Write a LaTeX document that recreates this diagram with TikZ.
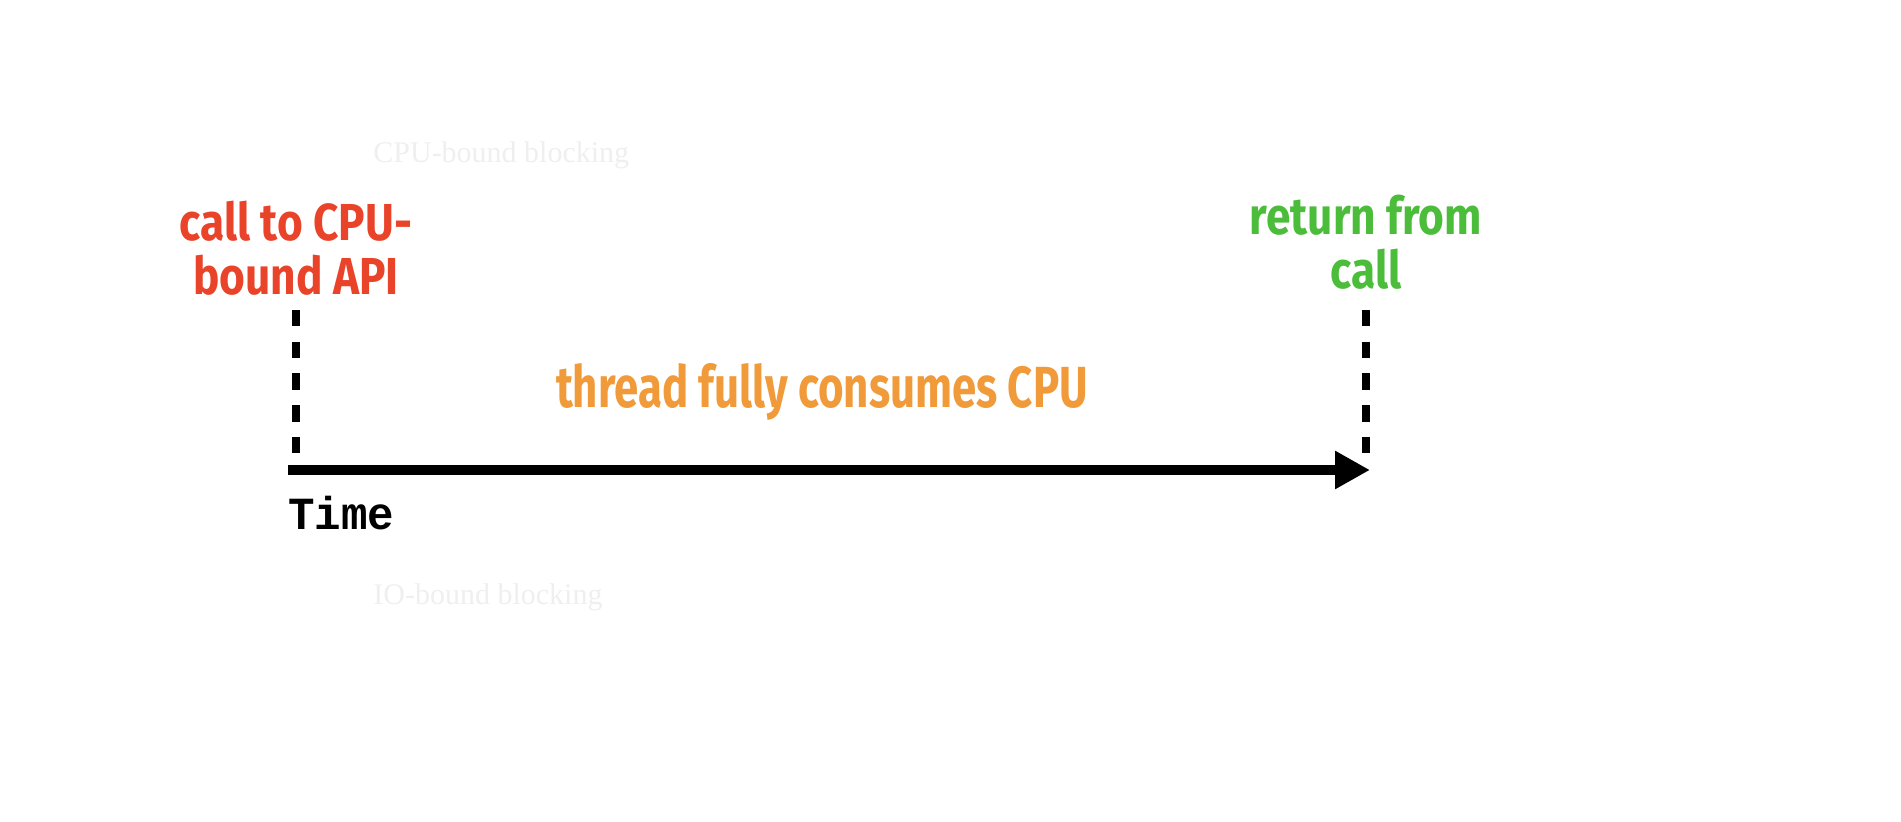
\documentclass[tikz,border=0pt]{standalone}
\usepackage{fontspec}
\usetikzlibrary{arrows.meta}
\setmainfont{Liberation Serif}
\newfontfamily\handfont[FakeStretch=0.85]{Fira Sans}
\newfontfamily\busyfont[FakeStretch=0.755]{Fira Sans}
\newfontfamily\timefont[FakeStretch=0.96]{Liberation Mono}
\definecolor{callred}{HTML}{E9432A}
\definecolor{retgreen}{HTML}{4CBC3B}
\definecolor{cpuorange}{HTML}{F09A3A}
\definecolor{ghostgray}{HTML}{EFEFEF}
\tikzset{
  hand/.style={inner sep=0pt,align=center,font=\handfont\bfseries\fontsize{26}{27}\selectfont},
  ghost/.style={inner sep=0pt,anchor=base west,text=ghostgray,font=\fontsize{15}{18}\selectfont},
  marker/.style={line width=4pt,dash pattern=on 8.25pt off 7.6pt},
  timeline/.style={line width=5pt,-{Triangle[length=17.5pt,width=18pt]}}
}
\begin{document}
\begin{tikzpicture}[x=0.5pt,y=-0.5pt]
\useasboundingbox (0,0) rectangle (1901,822);
% faint headings
\node[ghost] (cpuhead) at (373,163) {CPU-bound blocking};
\node[ghost] (iohead) at (373,605) {IO-bound blocking};
% labels
\node[hand,text=callred,anchor=north] (call) at (296,201) {call to CPU-\\bound API};
\node[hand,text=retgreen,anchor=north] (ret) at (1366,195) {return from\\call};
\node[hand,text=cpuorange,anchor=base,font=\busyfont\bfseries\fontsize{29}{30}\selectfont] (busy) at (822,408) {thread fully consumes CPU};
% time axis
\coordinate (t0) at (288,470);
\coordinate (t1) at (1370,470);
\draw[timeline] (t0) -- (t1);
\node[inner sep=0pt,anchor=base west,font=\timefont\bfseries\fontsize{23}{26}\selectfont] (time) at (288,530) {Time};
% call and return markers
\coordinate (callTop) at (296,310);
\coordinate (callEnd) at (296,453);
\coordinate (retTop) at (1366,310);
\coordinate (retEnd) at (1366,453);
\draw[marker] (callTop) -- (callEnd);
\draw[marker] (retTop) -- (retEnd);
\end{tikzpicture}
\end{document}
